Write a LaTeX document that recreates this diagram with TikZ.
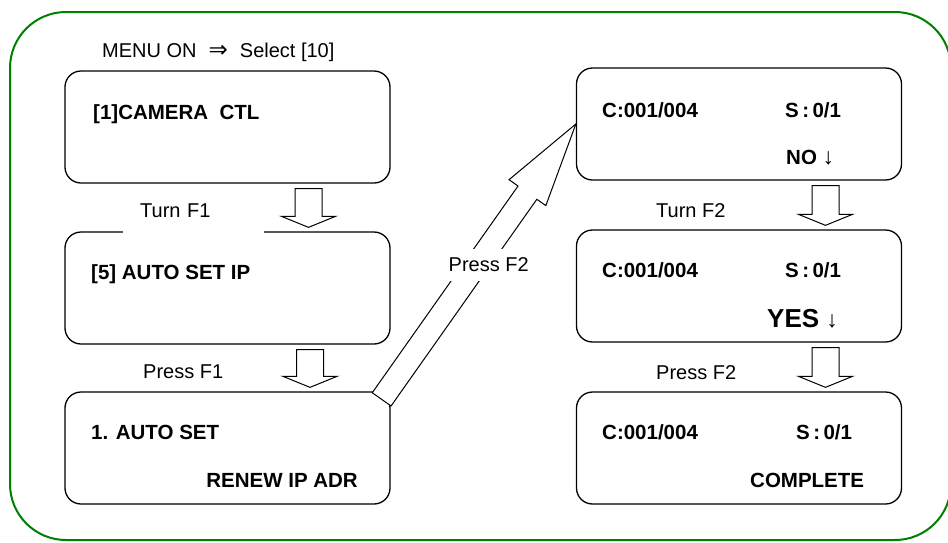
\documentclass[tikz,border=0pt]{standalone}
\usepackage{fontspec}
\setmainfont{Liberation Sans}
\newfontfamily\symfont{DejaVu Sans}
\usetikzlibrary{calc,positioning}
\definecolor{framegreen}{RGB}{0,128,0}
\newcommand\dnarr{{\mdseries\fontsize{23}{24}\selectfont ↓}}

\begin{document}
\begin{tikzpicture}[x=1pt,y=-1pt,
        lcd/.style={draw, line width=1.3pt, rounded corners=16pt, minimum width=325pt, minimum height=112pt, inner sep=0pt},
        scr/.style={font=\fontsize{20.5}{24}\selectfont\bfseries, anchor=base west, inner sep=0pt},
        lbl/.style={font=\fontsize{20}{24}\selectfont, inner sep=0pt},
        fat/.style={draw, fill=white, line width=1pt, line join=miter}]
            \useasboundingbox (0,0) rectangle (948,542);
            \draw [framegreen, line width=2pt, rounded corners=56pt] (10,12) rectangle (951,540);

            % screens
            \node [lcd] (cam)     at (227.5,127) {};
            \node [lcd] (autoip)  at (227.5,288) {};
            \node [lcd] (autoset) at (227.5,448) {};
            \node [lcd] (no)      at (739,124) {};
            \node [lcd] (yes)     at (739,286) {};
            \node [lcd] (done)    at (739,448) {};

            \node [lbl, anchor=base west] (menu) at (102,57) {MENU ON\hspace{12pt}{\symfont\fontsize{23}{24}\selectfont ⇒}\hspace{12pt}Select [10]};
            \node [scr] (camtxt) at (93,119) {[1]CAMERA~~CTL};
            \node [scr] (iptxt) at (91,279) {[5] AUTO SET IP};
            \node [scr] (settxt) at (91,439) {1. AUTO SET};
            \node [scr, anchor=base east] (renew) at (358,487) {RENEW IP ADR};

            \node [scr] (c1) at (602,117) {C:001/004};
            \node [scr] (s1) at (785,117) {S\,:\,0/1};
            \node [scr] (notxt) at (786,164) {NO \dnarr};
            \node [scr] (c2) at (602,277) {C:001/004};
            \node [scr] (s2) at (785,277) {S\,:\,0/1};
            \node [scr, font=\fontsize{26}{30}\selectfont\bfseries] (yestxt) at (767,327) {YES \dnarr};
            \node [scr] (c3) at (602,439) {C:001/004};
            \node [scr] (s3) at (796,439) {S\,:\,0/1};
            \node [scr] (comp) at (750,487) {COMPLETE};

            % down arrows
            \foreach \a/\b/\dx in {cam/autoip/81, autoip/autoset/82.5, no/yes/86.5, yes/done/86.5}
                \draw [fat] ($(\a.south)+(\dx-13.5,5)$) -- ($(\a.south)+(\dx+13.5,5)$)
                            -- ($(\b.north)+(\dx+13.5,-15)$) -- ($(\b.north)+(\dx+27,-15)$)
                            -- ($(\b.north)+(\dx,-4)$)
                            -- ($(\b.north)+(\dx-27,-15)$) -- ($(\b.north)+(\dx-13.5,-15)$) -- cycle;

            % big arrow
            \coordinate (tail) at ($(autoset.north east)+(-9,8)$);
            \coordinate (tip) at (no.west);
            \coordinate (hb) at ($(tip)!84pt!(tail)$);
            \draw [fat] ($(tail)!11.5pt!90:(tip)$) -- ($(hb)!11.5pt!90:(tip)$) -- ($(hb)!22.5pt!90:(tip)$)
                        -- (tip)
                        -- ($(hb)!22.5pt!-90:(tip)$) -- ($(hb)!11.5pt!-90:(tip)$) -- ($(tail)!11.5pt!-90:(tip)$) -- cycle;

            % labels
            \node [lbl, fill=white, anchor=west, text width=107pt, minimum height=44pt, inner xsep=17pt] (turn1) at (123,211) {Turn F1};
            \node [lbl, anchor=base west] (press1) at (143,378) {Press F1};
            \node [lbl, fill=white, inner xsep=1pt, inner ysep=9pt] (press2) at ($(tail)!0.5!(tip)+(10,3)$) {Press F2};
            \node [lbl, anchor=base west] (turn2) at (656,217) {Turn F2};
            \node [lbl, anchor=base west] (press3) at (656,379) {Press F2};
        \end{tikzpicture}
\end{document}
